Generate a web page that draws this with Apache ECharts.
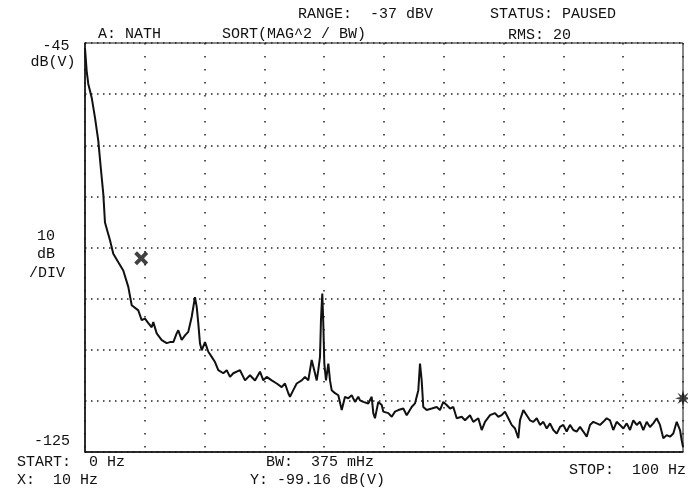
<!DOCTYPE html>
<html>
<head>
<meta charset="utf-8">
<script src="https://cdn.jsdelivr.net/npm/echarts@6/dist/echarts.min.js"></script>
<style>
    html, body {margin: 0; padding: 0; background: #fff;}
    #chart {width: 688px; height: 495px;}
</style>
</head>
<body>
<div id="chart"></div>
<script>
// trace: frequency (Hz) and level (dB(V))
const freq = [
    0, 0.28, 0.55, 1.12, 1.67, 2.22, 2.63, 3.06, 3.34, 4.18, 4.73, 5.57, 6.4, 7.24, 7.81, 8.91, 9.48, 10.03, 10.59, 11.15,
    11.42, 11.99, 12.83, 13.66, 14.21, 14.77, 15.33, 15.6, 16.17, 16.72, 17.27, 17.84, 18.39, 18.68, 18.95, 19.23, 19.52, 20.07, 20.62, 21.19,
    21.45, 21.74, 22.29, 23.13, 23.7, 24.25, 24.8, 25.92, 26.76, 27.59, 28.43, 29.26, 29.82, 30.38, 31.22, 32.06, 32.89, 33.44, 34.0, 34.28,
    34.83, 35.4, 36.24, 36.79, 37.34, 37.91, 38.18, 38.46, 38.75, 39.01, 39.3, 39.46, 39.68, 39.85, 40.02, 40.3, 40.69, 40.97, 41.25, 41.81,
    42.36, 42.93, 43.48, 44.03, 44.6, 45.15, 45.7, 45.99, 46.54, 47.37, 47.94, 48.21, 48.49, 49.05, 49.62, 49.88, 50.72, 51.29, 51.84, 52.39,
    53.23, 53.8, 54.63, 55.18, 55.74, 56.02, 56.3, 56.57, 57.14, 57.98, 58.81, 59.36, 59.92, 60.48, 61.04, 61.59, 62.16, 62.99, 63.55, 64.38,
    64.93, 65.77, 66.34, 66.89, 67.73, 68.56, 69.11, 69.68, 70.23, 70.79, 71.35, 71.91, 72.46, 72.74, 73.3, 73.86, 74.41, 74.97, 75.54, 76.09,
    76.64, 77.21, 77.76, 78.31, 78.88, 79.43, 79.98, 80.55, 81.1, 81.66, 82.22, 82.78, 83.33, 83.9, 84.45, 85.0, 85.57, 86.12, 86.67, 87.24,
    87.79, 88.34, 88.91, 89.46, 90.02, 90.59, 91.14, 91.69, 92.26, 92.81, 93.36, 93.93, 94.48, 95.03, 95.6, 96.15, 96.71, 97.27, 97.83, 98.38,
    98.95, 99.21, 99.5, 99.78, 100
]
const level = [
    -46.0, -50.5, -53.0, -55.7, -59.6, -64.1, -69.3, -74.5, -80.1, -83.6, -86.2, -87.9, -89.5, -92.7, -96.3, -97.3, -99.2, -98.9, -99.8, -100.6,
    -99.6, -101.8, -103.1, -103.7, -103.5, -103.5, -101.8, -101.2, -103.1, -102.2, -101.5, -98.6, -94.7, -96.6, -99.9, -103.8, -105.1, -103.5, -105.4, -106.4,
    -106.1, -107.4, -109.0, -109.6, -109.0, -110.3, -109.6, -109.0, -111.0, -110.0, -111.0, -109.3, -111.0, -110.3, -111.0, -111.6, -112.3, -111.6, -113.5, -114.2,
    -112.9, -111.6, -111.0, -110.3, -111.0, -107.0, -106.7, -109.6, -111.0, -109.0, -106.4, -99.2, -94.0, -99.9, -107.7, -111.0, -107.7, -111.0, -112.9, -113.5,
    -113.9, -116.8, -114.2, -114.5, -113.9, -115.2, -114.2, -114.9, -115.2, -115.5, -114.2, -117.4, -118.4, -115.2, -115.8, -117.1, -117.4, -118.1, -117.1, -116.8,
    -116.5, -117.8, -116.2, -115.5, -112.9, -107.7, -111.0, -116.2, -116.8, -116.5, -116.2, -116.8, -115.2, -115.8, -116.5, -116.2, -118.4, -118.1, -118.8, -117.8,
    -119.1, -118.4, -120.7, -119.1, -117.8, -117.4, -118.1, -117.8, -117.1, -118.4, -119.7, -120.4, -122.3, -118.8, -116.8, -117.8, -118.8, -119.1, -118.4, -119.7,
    -119.1, -120.4, -119.4, -120.7, -121.4, -120.1, -119.7, -121.0, -119.7, -120.7, -121.0, -120.1, -121.0, -122.0, -119.7, -119.1, -119.4, -119.7, -119.1, -118.4,
    -118.8, -120.7, -119.1, -119.7, -120.4, -119.4, -120.7, -118.8, -119.7, -119.1, -120.7, -119.1, -120.1, -119.4, -118.4, -119.7, -122.3, -121.7, -122.0, -121.4,
    -119.1, -118.8, -120.7, -122.7, -124.0
]

// markers
const crossMarker = [[9.4, -87.1]]
const starMarker = [[100, -114.5]]

// axis range
const xMin = 0
const xMax = 100
const xStep = 10
const yMin = -125
const yMax = -45
const yStep = 10

const font = '"Liberation Mono", "DejaVu Sans Mono", monospace'
const ink = '#111'

const txt = (text, x, y, align) => ({
    type: 'text',
    x,
    y,
    style: {
        text,
        fill: ink,
        font: '15px ' + font,
        textAlign: align || 'left',
        textVerticalAlign: 'middle',
    },
})

const chart = echarts.init(document.getElementById('chart'), null, {renderer: 'canvas'})

chart.setOption({
    backgroundColor: '#fff',
    animation: false,
    grid: {
        left: 85,
        right: 5,
        top: 43,
        bottom: 43,
        show: true,
        borderColor: ink,
        borderWidth: 1,
        backgroundColor: 'transparent',
    },
    xAxis: {
        type: 'value',
        min: xMin,
        max: xMax,
        interval: xStep,
        axisLabel: {show: false},
        axisTick: {show: false},
        axisLine: {show: true, lineStyle: {color: ink, width: 1.5}},
        splitLine: {
            show: true,
            lineStyle: {color: '#222', width: 1.5, type: [1.5, 11.5]},
        },
    },
    yAxis: {
        type: 'value',
        min: yMin,
        max: yMax,
        interval: yStep,
        axisLabel: {show: false},
        axisTick: {show: false},
        axisLine: {show: true, lineStyle: {color: ink, width: 1.5}},
        splitLine: {
            show: true,
            lineStyle: {color: '#222', width: 1.5, type: [1.5, 4.5]},
        },
    },
    series: [
        {
            type: 'line',
            data: freq.map((f, i) => [f, level[i]]),
            showSymbol: false,
            lineStyle: {color: ink, width: 2},
            z: 3,
        },
        {
            type: 'scatter',
            data: crossMarker,
            symbol: 'path://M0,2L2,0L5,3L8,0L10,2L7,5L10,8L8,10L5,7L2,10L0,8L3,5Z',
            symbolSize: 14,
            itemStyle: {color: ink},
            clip: false,
            z: 4,
        },
        {
            type: 'scatter',
            data: starMarker,
            symbol: 'path://M5,0L5.9,3.2L8.54,1.46L6.8,4.1L10,5L6.8,5.9L8.54,8.54L5.9,6.8L5,10L4.1,6.8L1.46,8.54L3.2,5.9L0,5L3.2,4.1L1.46,1.46L4.1,3.2Z',
            symbolSize: 16,
            itemStyle: {color: ink},
            clip: false,
            z: 4,
        },
    ],
    graphic: [
        txt('RANGE:  -37 dBV', 298, 14),
        txt('STATUS: PAUSED', 490, 14),
        txt('A: NATH', 98, 34),
        txt('SORT(MAG^2 / BW)', 222, 34),
        txt('RMS: 20', 508, 35),
        txt('-45', 56, 46, 'center'),
        txt('dB(V)', 53, 62, 'center'),
        txt('10', 46, 236, 'center'),
        txt('dB', 46, 254, 'center'),
        txt('/DIV', 47, 273, 'center'),
        txt('-125', 52, 441, 'center'),
        txt('START:  0 Hz', 17, 462),
        txt('X:  10 Hz', 17, 480),
        txt('BW:  375 mHz', 266, 462),
        txt('Y: -99.16 dB(V)', 250, 480),
        txt('STOP:  100 Hz', 686, 470, 'right'),
    ],
})
</script>
</body>
</html>
